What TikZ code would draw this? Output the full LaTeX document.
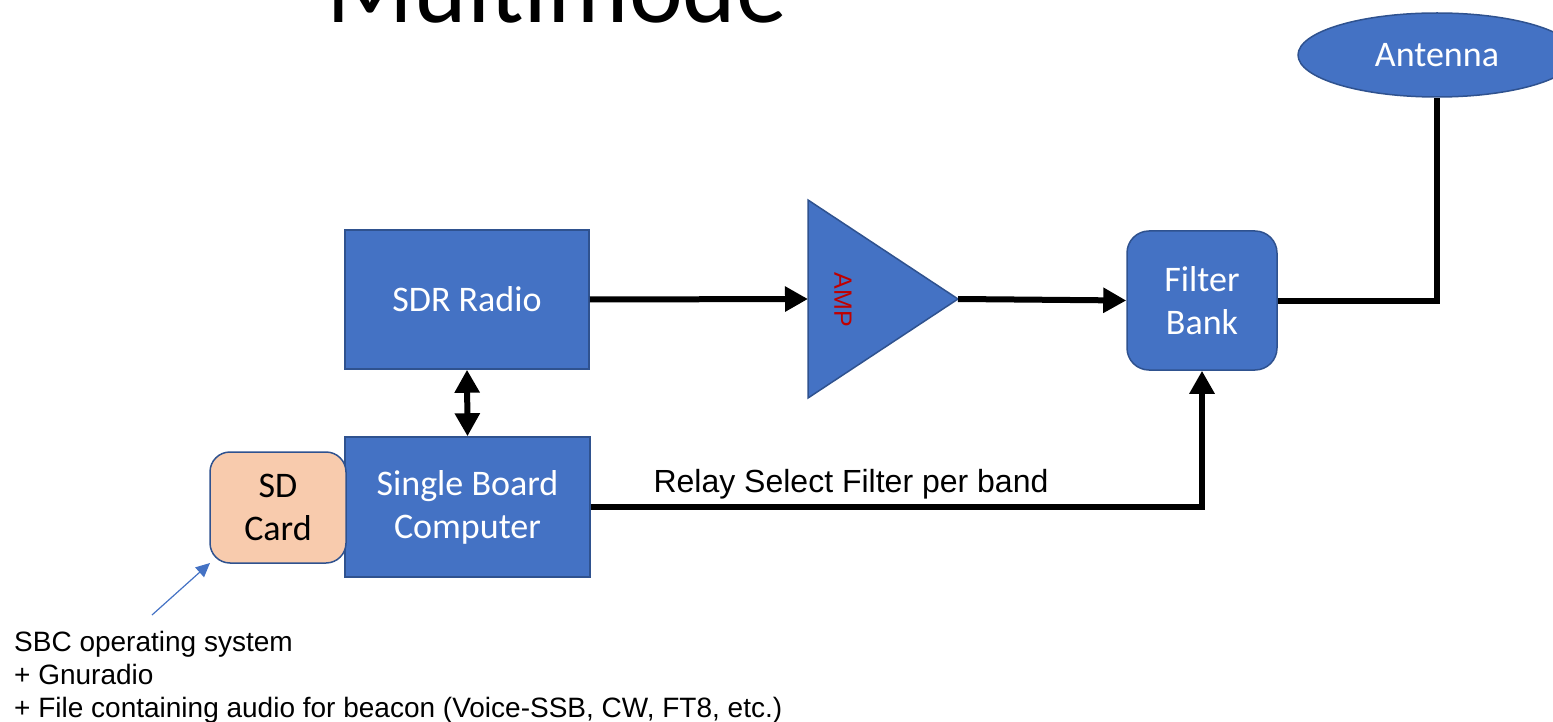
\documentclass[tikz,border=0pt]{standalone}
\usepackage{fontspec}
\setmainfont{Carlito}
\newfontfamily\arialfont{Liberation Sans}
\usetikzlibrary{arrows.meta,shapes.geometric,calc}
\definecolor{boxblue}{HTML}{4472C4}
\definecolor{edgeblue}{HTML}{2F528F}
\definecolor{sdfill}{HTML}{F8CBAD}
\definecolor{ampred}{HTML}{C00000}
\tikzset{
  blkbox/.style={draw=edgeblue, line width=1.5pt, fill=boxblue, text=white,
    font=\fontsize{36}{43}\selectfont, align=center, inner sep=0pt},
  conn/.style={line width=6pt, black},
  bigtip/.tip={Triangle[length=23pt,width=24pt]},
}
\begin{document}
\begin{tikzpicture}[x=1pt,y=-1pt]
\useasboundingbox (0,0) rectangle (1553,722);
\begin{scope}
\clip (0,0) rectangle (1553,722);
% title
\node[anchor=base, inner sep=0pt, font=\fontsize{102}{110}\selectfont] (title) at (557,23) {Multimode};
% antenna
\node[blkbox, ellipse, minimum width=278pt, minimum height=84pt] (ant) at (1437,55) {Antenna};
\end{scope}
% boxes
\node[blkbox, minimum width=244pt, minimum height=139pt] (sdr) at (467,299.5) {SDR Radio};
\node[blkbox, minimum width=245pt, minimum height=140pt] (sbc) at (467.5,507) {Single Board\\Computer};
\node[blkbox, fill=sdfill, text=black, rounded corners=20pt, minimum width=136pt, minimum height=111pt] (sd) at (278,507.5) {SD\\Card};
\node[blkbox, rounded corners=22pt, minimum width=150pt, minimum height=139pt] (fb) at (1202,300.5) {Filter\\Bank};
% amplifier triangle
\coordinate (ampin) at (808,299);
\coordinate (ampout) at (958,299);
\draw[draw=edgeblue, line width=1.5pt, fill=boxblue, line join=miter] (808,200) -- (ampout) -- (808,398) -- cycle;
\node[rotate=-90, text=ampred, font=\arialfont\fontsize{25}{30}\selectfont, inner sep=0pt] (amp) at (843,300) {AMP};
% connectors
\draw[conn, -bigtip] (sdr.east) -- (ampin);
\draw[conn, -bigtip] (ampout) -- (fb.west);
\draw[conn] (fb.east) -- (fb.east -| ant.south) -- (ant.south);
\draw[conn, bigtip-bigtip] (sdr.south) -- (sbc.north);
\draw[conn, -bigtip] (sbc.east) -- (sbc.east -| fb.south) -- (fb.south);
\node[anchor=base, inner sep=0pt, font=\arialfont\fontsize{32}{38}\selectfont] (relay) at (851,492) {Relay Select Filter per band};
% note
\node[anchor=north west, inner sep=0pt, align=left, font=\arialfont\fontsize{28}{33}\selectfont] (note) at (14,631) {SBC operating system\\+ Gnuradio\\+ File containing audio for beacon (Voice-SSB, CW, FT8, etc.)};
\coordinate (notetip) at (152,615);
\coordinate (sdcorner) at (210,563);
\draw[boxblue, line width=1.2pt, -{Triangle[length=14pt,width=13pt]}] (notetip) -- (sdcorner);
\end{tikzpicture}
\end{document}
